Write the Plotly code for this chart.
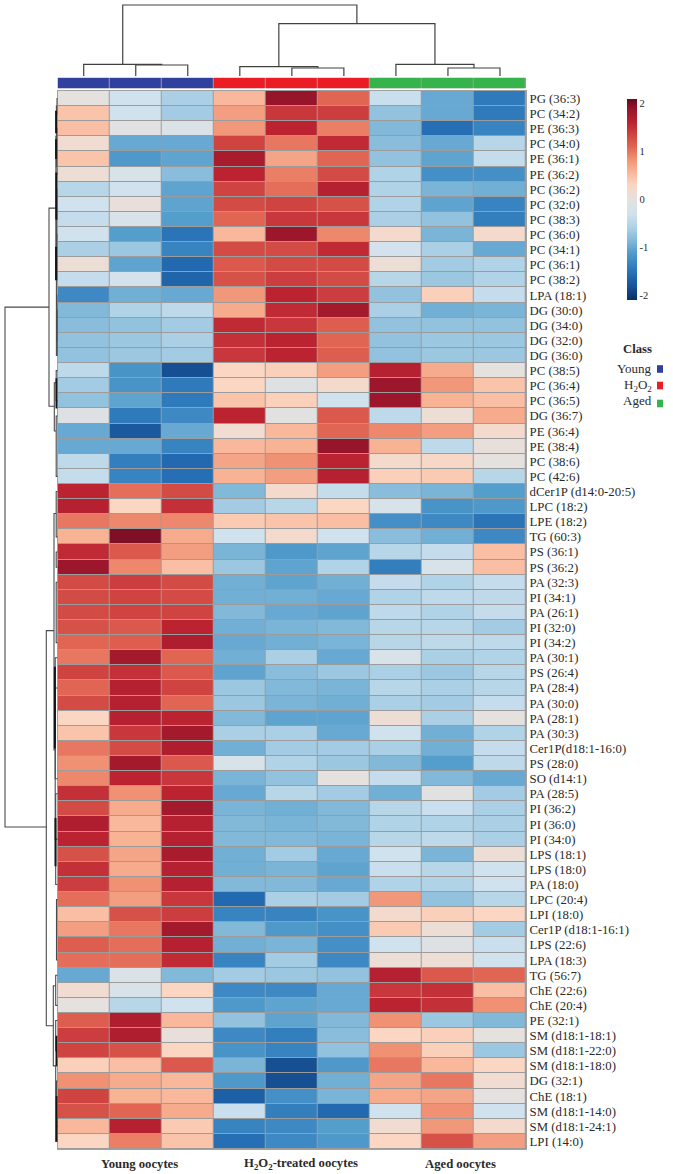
import plotly.graph_objects as go

W, H = 673, 1174
SERIF = "Liberation Serif"
TXT = "#2a2a2a"

lipids = ["PG (36:3)","PC (34:2)","PE (36:3)","PC (34:0)","PE (36:1)","PE (36:2)","PC (36:2)","PC (32:0)","PC (38:3)","PC (36:0)",
"PC (34:1)","PC (36:1)","PC (38:2)","LPA (18:1)","DG (30:0)","DG (34:0)","DG (32:0)","DG (36:0)","PC (38:5)","PC (36:4)",
"PC (36:5)","DG (36:7)","PE (36:4)","PE (38:4)","PC (38:6)","PC (42:6)","dCer1P (d14:0-20:5)","LPC (18:2)","LPE (18:2)","TG (60:3)",
"PS (36:1)","PS (36:2)","PA (32:3)","PI (34:1)","PA (26:1)","PI (32:0)","PI (34:2)","PA (30:1)","PS (26:4)","PA (28:4)",
"PA (30:0)","PA (28:1)","PA (30:3)","Cer1P(d18:1-16:0)","PS (28:0)","SO (d14:1)","PA (28:5)","PI (36:2)","PI (36:0)","PI (34:0)",
"LPS (18:1)","LPS (18:0)","PA (18:0)","LPC (20:4)","LPI (18:0)","Cer1P (d18:1-16:1)","LPS (22:6)","LPA (18:3)","TG (56:7)","ChE (22:6)",
"ChE (20:4)","PE (32:1)","SM (d18:1-18:1)","SM (d18:1-22:0)","SM (d18:1-18:0)","DG (32:1)","ChE (18:1)","SM (d18:1-14:0)","SM (d18:1-24:1)","LPI (14:0)"]

young = [[0.0,-.3,-.6],[.45,-.3,-.65],[.5,-.05,-.15],[.15,-1.0,-1.0],[.45,-1.15,-1.05],[.1,-.2,-.8],[-.5,-.3,-1.05],[-.3,.05,-1.05],[-.4,-.2,-1.1],[-.3,-1.1,-1.5],
[-.6,-.7,-1.35],[.1,-1.05,-1.6],[-.4,-.25,-1.65],[-1.3,-.95,-1.0],[-.85,-.55,-.45],[-.8,-.75,-.65],[-.75,-.7,-.6],[-.75,-.7,-.65],[-.45,-1.2,-1.85],[-.65,-1.2,-1.45],
[-.75,-1.05,-1.45],[-.1,-1.45,-1.3],[-1.0,-1.75,-1.0],[-1.0,-1.0,-1.35],[-.45,-1.4,-1.6],[-.4,-1.35,-1.55],[1.6,1.05,1.3],[1.65,.3,1.5],[1.0,.9,.9],[.6,2.0,.65],
[1.55,1.2,.75],[1.85,.9,.5],[1.3,1.4,1.3],[1.3,1.35,1.3],[1.3,1.35,1.35],[1.25,1.2,1.6],[1.1,1.15,1.7],[1.0,1.8,1.1],[1.35,1.5,1.2],[1.1,1.65,1.35],
[1.3,1.65,1.1],[.3,1.65,1.6],[.45,1.45,1.8],[1.0,1.3,1.7],[.85,1.8,1.2],[.9,1.6,1.45],[1.5,.85,1.6],[1.3,.65,1.8],[1.7,.55,1.65],[1.6,.6,1.65],
[1.25,.7,1.75],[1.5,.65,1.65],[1.4,.85,1.65],[1.05,.75,1.45],[.5,1.25,1.4],[.75,1.0,1.8],[1.15,1.05,1.65],[1.05,1.05,1.55],[-1.0,-.15,-.85],[.15,-.2,.3],
[0.0,-.5,-.3],[1.15,1.7,.55],[1.4,1.7,.05],[1.35,1.25,.3],[.35,.5,1.2],[.85,.65,.55],[1.35,.6,.55],[1.25,1.1,.65],[.55,1.65,.4],[.3,.95,.45]]

h2o2 = [[.55,1.9,1.1],[.75,1.45,1.4],[.8,1.6,.95],[1.35,1.0,1.55],[1.75,.7,1.1],[1.6,.95,1.3],[1.35,1.05,1.65],[1.3,1.35,1.25],[1.1,1.45,1.45],[.55,1.85,.9],
[1.3,1.3,1.55],[1.2,1.3,1.3],[1.25,1.4,1.3],[.8,1.6,1.4],[.65,1.55,1.8],[1.55,1.45,1.15],[1.5,1.6,1.1],[1.45,1.6,1.15],[.3,.35,.75],[.3,-.1,.2],
[.45,.35,-.3],[1.6,-.05,1.2],[.15,.55,1.1],[.55,.6,1.9],[.7,.85,1.6],[.6,.75,1.65],[-.85,.2,-.4],[-.65,-.5,.3],[.4,.45,.5],[-.3,.2,-.3],
[-.9,-1.15,-1.05],[-.7,-1.05,-.55],[-.95,-1.05,-.95],[-.95,-.95,-1.0],[-.85,-1.0,-1.05],[-.95,-.9,-.85],[-1.0,-.95,-.9],[-.95,-.6,-1.0],[-1.05,-.8,-.7],[-.7,-.85,-.9],
[-.7,-.9,-.95],[-.85,-1.05,-1.05],[-.6,-.6,-1.0],[-.95,-.65,-.65],[-.2,-.55,-.7],[-.9,-.75,0.0],[-1.0,-.5,-.65],[-.9,-.95,-.85],[-.85,-.9,-.85],[-.85,-.85,-.9],
[-.95,-.65,-1.0],[-.95,-.9,-1.05],[-.85,-.85,-1.0],[-1.6,-.6,-.65],[-1.35,-1.35,-1.2],[-.85,-1.15,-1.25],[-.95,-.9,-1.25],[-1.35,-.65,-1.3],[-.65,-.7,-.75],[-1.3,-1.3,-1.0],
[-1.15,-1.05,-1.0],[-.75,-1.05,-.85],[-1.3,-1.4,-.8],[-1.2,-1.35,-.75],[-.9,-1.85,-1.15],[-1.15,-1.85,-.95],[-1.7,-1.25,-.9],[-.35,-1.4,-1.6],[-1.35,-1.3,-1.1],[-1.55,-1.3,-1.15]]

aged = [[-.35,-1.0,-1.45],[-.75,-1.0,-1.45],[-.85,-1.55,-1.35],[-.8,-1.0,-.5],[-.75,-1.05,-.4],[-.55,-1.25,-1.25],[-.55,-.9,-.95],[-.55,-1.05,-1.35],[-.6,-.75,-1.4],[.2,-.9,.2],
[-.25,-.6,-1.0],[.1,-.65,-.55],[-.5,-.7,-.55],[-.75,.35,-.4],[-.6,-.95,-.9],[-.75,-.75,-.75],[-.75,-.7,-.7],[-.75,-.7,-.7],[1.65,.65,0.0],[1.85,.8,.45],
[1.85,.6,.5],[-.45,.1,.65],[.9,.75,.2],[.6,-.45,.05],[.2,.25,0.0],[.35,.4,-.5],[-.8,-.9,-1.1],[-.2,-1.2,-1.15],[-1.25,-1.3,-1.5],[-.8,-.95,-1.3],
[-.5,-.4,.5],[-1.4,-.2,.5],[-.4,-.55,-.4],[-.55,-.45,-.45],[-.45,-.55,-.4],[-.5,-.5,-.65],[-.5,-.45,-.45],[-.2,-.6,-.55],[-.6,-.7,-.5],[-.5,-.6,-.5],
[-.6,-.65,-.4],[.1,-.6,0.0],[-.3,-.95,-.55],[-.6,-.95,-.4],[-.85,-1.1,-.45],[-.4,-.85,-1.0],[-.95,-.05,-.65],[-.5,-.35,-.6],[-.55,-.55,-.6],[-.5,-.45,-.6],
[-.3,-.9,.1],[-.35,-.5,-.3],[-.55,-.55,-.3],[.8,-.75,-.5],[.2,.35,.3],[.4,.1,-.65],[-.3,-.1,-.35],[.1,.1,-.3],[1.65,1.2,1.1],[1.45,1.5,.5],
[1.6,1.5,.85],[.85,-.7,-.85],[.3,.35,0.0],[.85,.35,-.7],[1.0,.55,.3],[.7,1.0,.15],[.65,.7,0.0],[-.3,.85,-.3],[.15,.8,.2],[.3,1.25,.75]]

z_values = [y + h + a for y, h, a in zip(young, h2o2, aged)]
rows = list(range(1, len(lipids) + 1))
columns = list(range(1, 10))
column_class = [0, 0, 0, 1, 1, 1, 2, 2, 2]

class_names = ["Young", "H<sub>2</sub>O<sub>2</sub>", "Aged"]
class_colors = ["#30409f", "#ec1c24", "#36b34a"]
group_titles = ["Young oocytes", "H<sub>2</sub>O<sub>2</sub>-treated oocytes", "Aged oocytes"]
bar_ticks = [-2, -1, 0, 1, 2]
bar_tick_text = ["-2", "-1", "0", "1", "2"]

# colour ramp: (value, colour)
ramp = [(-2.1,"#0c2f62"),(-1.85,"#164f92"),(-1.6,"#2269b0"),(-1.4,"#337fbe"),(-1.1,"#549ecc"),(-.9,"#7ab4d7"),
        (-.6,"#abd0e5"),(-.3,"#d0e2ee"),(0,"#e4e1df"),(.3,"#fbd6c2"),(.6,"#f8b294"),(.85,"#f09173"),
        (1.1,"#e16553"),(1.35,"#cf4441"),(1.6,"#bb2331"),(1.9,"#96152a"),(2.1,"#660a20")]
ZMIN, ZMAX = -2.1, 2.1
colorscale = [[(v - ZMIN) / (ZMAX - ZMIN), c] for v, c in ramp]

# column dendrogram: (left pos, right pos, left height, right height, merge height)
col_merges = [(2, 3, 0, 0, 11), (1, 2.5, 0, 11, 11.7),
              (5, 6, 0, 0, 8), (4, 5.5, 0, 8, 9.3),
              (8, 9, 0, 0, 8), (7, 8.5, 0, 8, 11.7),
              (4.75, 7.75, 9.3, 11.7, 52.3),
              (1.75, 6.25, 11.7, 52.3, 71)]

# row dendrogram: (upper row, lower row, upper depth, lower depth, merge depth)
row_merges = [(14.8, 49.2, 8.7, 11.4, 52.7),
              (8.25, 21.36, 1.8, 3.4, 8.7),
              (36.2, 62.35, 3.7, 4.4, 11.4),
              (19.8, 23.0, 1.5, 1.5, 3.4),
              (28.45, 44.1, 1.5, 2.5, 3.7),
              (59.7, 65.0, 2.0, 2.0, 4.4),
              (3.5, 13.0, 1.3, 1.3, 1.8),
              (1.5, 5.5, .7, .7, 1.3), (8.0, 18.0, .7, .7, 1.3), (14.0, 17.0, .3, .3, .7),
              (1, 2, 0, 0, .7), (3, 6, 0, 0, .7), (7, 9, 0, 0, .7), (10, 13, 0, 0, .7), (15, 18, 0, 0, .3),
              (19, 21, 0, 0, 1.5), (22, 26, 0, 0, 1.5),
              (27, 30, 0, 0, 1.5), (31, 32, 0, 0, 1.5),
              (33, 37, 0, 0, 1.5), (38, 50, 0, 0, 2.5), (40, 46, 0, 0, 2.5), (47, 53, 0, 0, 2.0),
              (54, 58, 0, 0, 1.2),
              (59, 61, 0, 0, 2.0), (62, 64, 0, 0, 2.0), (65, 70, 0, 0, 2.0), (66, 69, 0, 0, 1.2)]

# dense overlapped stretches of the row dendrogram: (upper row, lower row, depth)
row_dense = [(1.8, 3.3, 1.6), (3.7, 5.0, 1.6), (5.9, 9.0, 1.4), (10.8, 13.0, 1.6), (19.5, 21.5, 1.2),
             (38.6, 44.0, 2.8), (48.6, 51.8, 2.2), (63.0, 65.0, 1.2), (67.0, 70.0, 1.0)]

# layout in page pixels
HM_L, HM_R, HM_T, HM_B = 57.7, 526.0, 91.0, 1149.0
def px_x(p): return p / W
def px_y(p): return 1 - p / H

fig = go.Figure()

fig.add_trace(go.Heatmap(
    z=z_values, x=columns, y=rows, zmin=ZMIN, zmax=ZMAX, colorscale=colorscale, xgap=1, ygap=1,
    xaxis="x", yaxis="y",
    colorbar=dict(
        thicknessmode="pixels", thickness=9.5, lenmode="pixels", len=201,
        x=px_x(627), xanchor="left", y=px_y(99), yanchor="top", xpad=0, ypad=0,
        outlinewidth=0, tickmode="array", tickvals=bar_ticks, ticktext=bar_tick_text,
        ticks="", ticklen=0, tickfont=dict(family=SERIF, size=10.5, color=TXT)),
))

fig.add_trace(go.Heatmap(
    z=[column_class], x=columns, y=[1], zmin=0, zmax=2, showscale=False, xgap=1,
    colorscale=[[0, class_colors[0]], [.33, class_colors[0]], [.34, class_colors[1]],
                [.66, class_colors[1]], [.67, class_colors[2]], [1, class_colors[2]]],
    xaxis="x2", yaxis="y2"))

cx, cy = [], []
for a, b, ha, hb, m in col_merges:
    cx += [a, a, b, b, None]
    cy += [ha, m, m, hb, None]
fig.add_trace(go.Scatter(x=cx, y=cy, mode="lines", line=dict(color="#404040", width=1.2),
                         xaxis="x3", yaxis="y3", showlegend=False, hoverinfo="skip"))

rx, ry = [], []
for a, b, da, db, m in row_merges:
    rx += [da, m, m, db, None]
    ry += [a, a, b, b, None]
fig.add_trace(go.Scatter(x=rx, y=ry, mode="lines", line=dict(color="#4a4a4a", width=1.1),
                         xaxis="x4", yaxis="y4", showlegend=False, hoverinfo="skip"))

dx, dy = [], []
for a, b, d in row_dense:
    dx += [d, d, None]
    dy += [a, b, None]
fig.add_trace(go.Scatter(x=dx, y=dy, mode="lines", line=dict(color="#151515", width=2),
                         xaxis="x4", yaxis="y4", showlegend=False, hoverinfo="skip"))

off = dict(visible=False, showgrid=False, zeroline=False)
x_dom = [px_x(HM_L), px_x(HM_R)]
annotations = []
for xp, t in zip([139, 301, 460], group_titles):
    annotations.append(dict(x=px_x(xp), y=px_y(1164), xref="paper", yref="paper", text=f"<b>{t}</b>", showarrow=False,
                            font=dict(family=SERIF, size=12.7, color=TXT), xanchor="center", yanchor="middle"))
annotations.append(dict(x=px_x(637), y=px_y(349), xref="paper", yref="paper", text="<b>Class</b>", showarrow=False,
                        font=dict(family=SERIF, size=12.7, color=TXT), xanchor="center", yanchor="middle"))
shapes = [dict(type="rect", xref="paper", yref="paper", x0=px_x(HM_L), x1=px_x(HM_R), y0=px_y(HM_B), y1=px_y(HM_T),
               fillcolor="#9c9c9c", line_width=0, layer="below"),
          dict(type="rect", xref="paper", yref="paper", x0=px_x(HM_L), x1=px_x(HM_R), y0=px_y(88.3), y1=px_y(77.7),
               fillcolor="#9c9c9c", line_width=0, layer="below")]
for name, col, yt, yb in zip(class_names, class_colors, [369, 385, 400], [369, 385.5, 403.5]):
    annotations.append(dict(x=px_x(654), y=px_y(yt), xref="paper", yref="paper", text=name, showarrow=False,
                            font=dict(family=SERIF, size=13, color=TXT), xanchor="right", yanchor="middle"))
    shapes.append(dict(type="rect", xref="paper", yref="paper", x0=px_x(657), x1=px_x(663),
                       y0=px_y(yb - 3.8), y1=px_y(yb + 3.8), fillcolor=col, line_width=0))

fig.update_layout(
    width=W, height=H, margin=dict(l=0, r=0, t=0, b=0), autosize=False,
    paper_bgcolor="white", plot_bgcolor="rgba(0,0,0,0)", showlegend=False,
    annotations=annotations, shapes=shapes,
    xaxis=dict(domain=x_dom, range=[.5, 9.5], showgrid=False, zeroline=False, showticklabels=False,
               ticks="", showline=True, linecolor="#a0a0a0", linewidth=1, mirror=True, anchor="y"),
    yaxis=dict(domain=[px_y(HM_B), px_y(HM_T)], range=[70.5, .5], side="right", showgrid=False, zeroline=False,
               tickmode="array", tickvals=rows, ticktext=lipids, ticks="", automargin=False,
               tickfont=dict(family=SERIF, size=12.8, color=TXT), anchor="x",
               showline=True, linecolor="#a0a0a0", linewidth=1, mirror=True),
    xaxis2=dict(domain=x_dom, range=[.5, 9.5], anchor="y2", **off),
    yaxis2=dict(domain=[px_y(88.3), px_y(77.7)], range=[.5, 1.5], anchor="x2", **off),
    xaxis3=dict(domain=x_dom, range=[.5, 9.5], anchor="y3", **off),
    yaxis3=dict(domain=[px_y(76), px_y(4)], range=[0, 72], anchor="x3", **off),
    xaxis4=dict(domain=[px_x(3), px_x(HM_L)], range=[54.7, 0], anchor="y4", **off),
    yaxis4=dict(domain=[px_y(HM_B), px_y(HM_T)], range=[70.5, .5], anchor="x4", **off),
)

fig.write_html("out.html", config={"displayModeBar": False}, post_script="document.body.style.margin='0';")
